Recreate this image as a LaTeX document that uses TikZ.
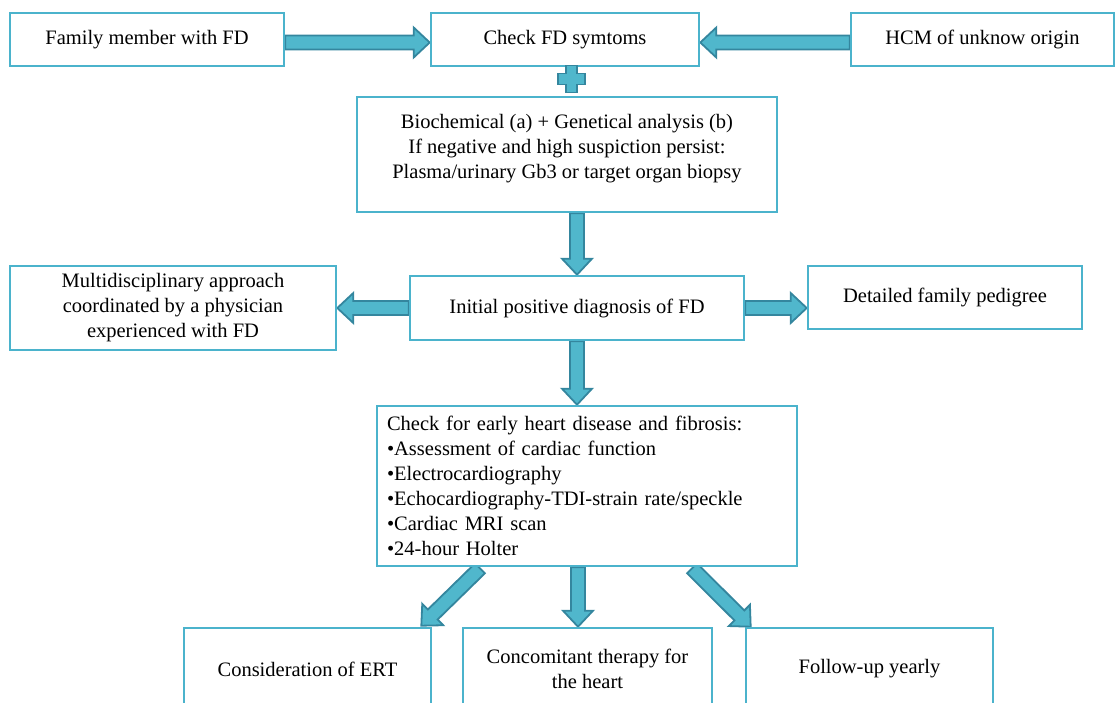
\documentclass[tikz,border=0pt]{standalone}
\usepackage{fontspec}
\setmainfont{Liberation Serif}
\usetikzlibrary{calc,backgrounds}
\definecolor{boxc}{RGB}{75,179,204}
\definecolor{arrf}{RGB}{80,183,204}
\definecolor{arrd}{RGB}{52,134,158}
\tikzset{
  box/.style={draw=boxc, line width=2.6pt, fill=white, inner sep=4pt, align=center,
    font=\fontsize{20.5}{25}\selectfont},
  arr/.style={fill=arrf, draw=arrd, line width=1.8pt, line join=miter},
}
\newcommand\barrow[2]{%
  \filldraw[arr] ($(#1)!7pt!-90:(#2)$) -- ($(#2)!16pt!(#1)!7pt!90:(#1)$)
   -- ($(#2)!16pt!(#1)!15pt!90:(#1)$) -- (#2)
   -- ($(#2)!16pt!(#1)!15pt!-90:(#1)$) -- ($(#2)!16pt!(#1)!7pt!-90:(#1)$)
   -- ($(#1)!7pt!90:(#2)$) -- cycle;}
\begin{document}
\begin{tikzpicture}[x=1pt,y=-1pt]
\useasboundingbox (0,0) rectangle (1116,702);
\clip (0,0) rectangle (1116,702);
\node[box, minimum width=274pt, minimum height=53pt] (fam) at (147,39.5) {Family member with FD};
\node[box, minimum width=268pt, minimum height=53pt] (chk) at (565,39.5) {Check FD symtoms};
\node[box, minimum width=263pt, minimum height=53pt] (hcm) at (982.5,39.5) {HCM of unknow origin};
\node[box, minimum width=420pt, minimum height=115pt] (bio) at (567,154.5)
  {Biochemical (a) + Genetical analysis (b)\\If negative and high suspiction persist:\\Plasma/urinary Gb3 or target organ biopsy\\[-8pt]~};
\node[box, minimum width=326pt, minimum height=84pt] (multi) at (173,308)
  {Multidisciplinary approach\\coordinated by a physician\\experienced with FD};
\node[box, minimum width=334pt, minimum height=64pt] (ini) at (577,308) {Initial positive diagnosis of FD};
\node[box, minimum width=274pt, minimum height=63pt] (ped) at (945,297.5) {Detailed family pedigree};
\node[box, minimum width=420pt, minimum height=160pt, text width=400pt, inner xsep=10pt, align=left] (chk2) at (587,486)
  {Check for early heart disease and fibrosis:\\•Assessment of cardiac function\\•Electrocardiography\\•Echocardiography-TDI-strain rate/speckle\\•Cardiac MRI scan\\•24-hour Holter};
\node[box, minimum width=247pt, minimum height=82pt] (ert) at (307.5,669) {Consideration of ERT};
\node[box, minimum width=249pt, minimum height=82pt] (cc) at (587.5,669) {Concomitant therapy for\\the heart};
\node[box, minimum width=247pt, minimum height=82pt] (fu) at (869.5,669) {Follow-up yearly};
% helper coordinates
\coordinate (h1) at ([yshift=-3pt]fam.east);
\coordinate (h2) at (chk.west |- h1);
\coordinate (h3) at ([yshift=-3pt]hcm.west);
\coordinate (h4) at (chk.east |- h3);
\coordinate (a1) at (ini.north |- bio.south);
\coordinate (a2) at (multi.east |- ini.west);
\coordinate (a3) at (ped.west |- ini.east);
\coordinate (a4) at (ini.south |- chk2.north);
\coordinate (l1) at ([xshift=-107pt,yshift=-1pt]chk2.south);
\coordinate (l2) at ([xshift=-11pt,yshift=1pt]ert.north east);
\coordinate (m1) at ([xshift=-9pt]chk2.south);
\coordinate (m2) at (m1 |- cc.north);
\coordinate (r1) at ([xshift=105pt,yshift=-1pt]chk2.south);
\coordinate (r2) at ([xshift=6pt]fu.north west);
\coordinate (plus) at (571.5,79);
\begin{scope}[on background layer]
\barrow{h1}{h2}
\barrow{h3}{h4}
\barrow{a1}{ini.north}
\barrow{ini.west}{a2}
\barrow{ini.east}{a3}
\barrow{ini.south}{a4}
\barrow{l1}{l2}
\barrow{m1}{m2}
\barrow{r1}{r2}
\end{scope}
\filldraw[arr] ([shift={(-5.5,-13.5)}]plus) -- ([shift={(5.5,-13.5)}]plus) -- ([shift={(5.5,-5.5)}]plus)
  -- ([shift={(13.5,-5.5)}]plus) -- ([shift={(13.5,5.5)}]plus) -- ([shift={(5.5,5.5)}]plus)
  -- ([shift={(5.5,13.5)}]plus) -- ([shift={(-5.5,13.5)}]plus) -- ([shift={(-5.5,5.5)}]plus)
  -- ([shift={(-13.5,5.5)}]plus) -- ([shift={(-13.5,-5.5)}]plus) -- ([shift={(-5.5,-5.5)}]plus) -- cycle;
\end{tikzpicture}
\end{document}
